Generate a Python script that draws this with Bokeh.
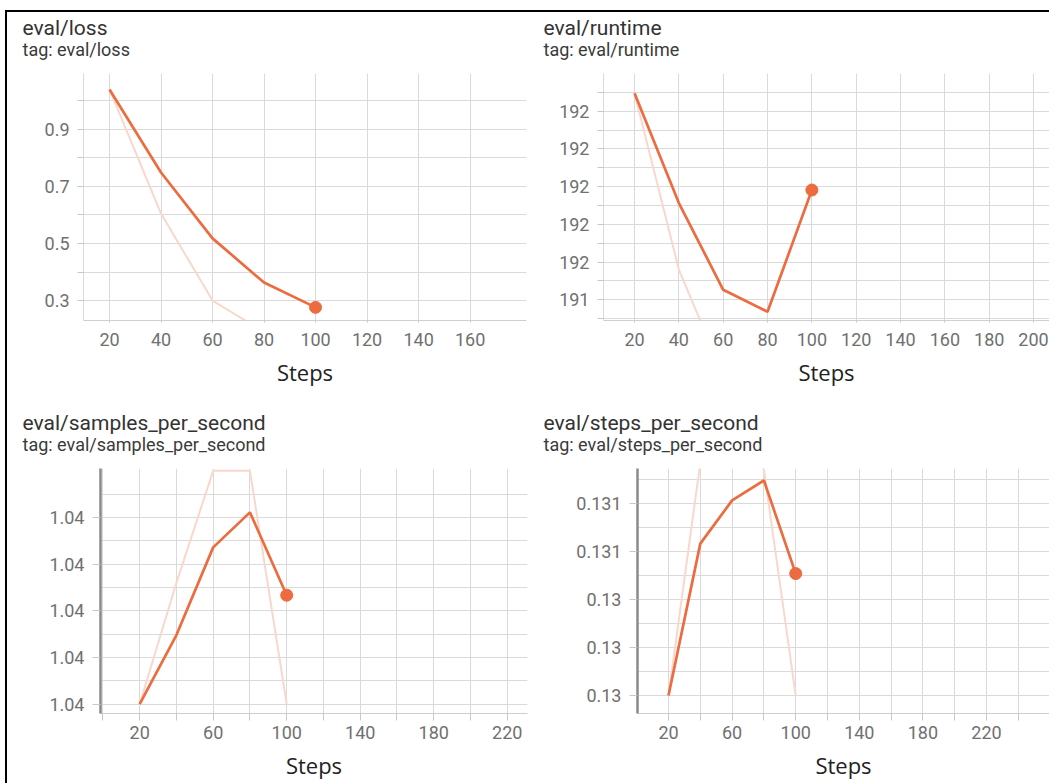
from bokeh.plotting import figure
from bokeh.models import Range1d, FixedTicker, CustomJSTickFormatter, Title, Div, Spacer
from bokeh.layouts import column, row
from bokeh.embed import file_html
from bokeh.resources import INLINE

# ---------------- data ----------------
steps = [20, 40, 60, 80, 100]

loss_smoothed = [1.040, 0.749, 0.518, 0.363, 0.276]
loss_raw = [1.040, 0.605, 0.300, 0.190, 0.140]

runtime_smoothed = [192.495, 191.913, 191.453, 191.336, 191.982]
runtime_raw = [192.495, 191.560, 191.000, 190.800, 191.100]

samples_smoothed = [1.04000, 1.040296, 1.040672, 1.040822, 1.040467]
samples_raw = [1.04000, 1.040520, 1.041000, 1.041000, 1.040000]

sps_smoothed = [0.13000, 0.130633, 0.130813, 0.130896, 0.130508]
sps_raw = [0.13000, 0.130970, 0.131200, 0.130940, 0.130000]

loss_yticks = [0.3, 0.5, 0.7, 0.9]
loss_ylabels = ["0.3", "0.5", "0.7", "0.9"]
loss_yminor = [0.4, 0.6, 0.8, 1.0]

runtime_yticks = [191.4, 191.6, 191.8, 192.0, 192.2, 192.4]
runtime_ylabels = ["191", "192", "192", "192", "192", "192"]
runtime_yminor = [191.3, 191.5, 191.7, 191.9, 192.1, 192.3, 192.5]

samples_yticks = [1.0400, 1.0402, 1.0404, 1.0406, 1.0408]
samples_ylabels = ["1.04", "1.04", "1.04", "1.04", "1.04"]
samples_yminor = [1.0401, 1.0403, 1.0405, 1.0407, 1.0409]

sps_yticks = [0.1300, 0.1302, 0.1304, 0.1306, 0.1308]
sps_ylabels = ["0.13", "0.13", "0.13", "0.131", "0.131"]
sps_yminor = [0.1301, 0.1303, 0.1305, 0.1307, 0.1309]

top_xticks = [20, 40, 60, 80, 100, 120, 140, 160, 180, 200]
bottom_xticks = [20, 60, 100, 140, 180, 220]
bottom_xminor = [0, 40, 80, 120, 160, 200, 240]

# ---------------- style ----------------
MAIN = "#ec6b3f"
RAW = "#f8d8cc"
GRID = "#dadada"
TICK_COLOR = "#707070"
TITLE_COLOR = "#333333"


def panel(title, tag, raw, smooth, xr, yr, xticks, xminor, yticks, ylabels, yminor,
          width, height, left, right, top, bottom, dark_axis):
    p = figure(width=width, height=height, output_backend="svg", toolbar_location=None,
               x_range=Range1d(*xr), y_range=Range1d(*yr), title=None,
               min_border_left=left, min_border_right=right,
               min_border_top=top, min_border_bottom=bottom)
    p.outline_line_color = None
    p.background_fill_color = "white"
    p.border_fill_color = "white"

    xt = FixedTicker(ticks=xticks, minor_ticks=xminor)
    yt = FixedTicker(ticks=yticks, minor_ticks=yminor)
    p.xaxis.ticker = xt
    p.yaxis.ticker = yt
    p.xgrid.ticker = xt
    p.ygrid.ticker = yt
    for g in (p.xgrid, p.ygrid):
        g.grid_line_color = GRID
        g.minor_grid_line_color = GRID
        g.grid_line_width = 1
        g.minor_grid_line_width = 1

    p.yaxis.formatter = CustomJSTickFormatter(
        args=dict(vals=yticks, labs=ylabels),
        code="""
        for (let i = 0; i < vals.length; i++) {
            if (Math.abs(vals[i] - tick) < 1e-9) { return labs[i]; }
        }
        return "";
        """)

    for ax in (p.xaxis, p.yaxis):
        ax.major_label_text_font = "Roboto"
        ax.major_label_text_font_size = "18px"
        ax.major_label_text_color = TICK_COLOR
        ax.major_tick_in = 0
        ax.minor_tick_in = 0
        ax.major_tick_line_color = "#c8c8c8"
        ax.minor_tick_line_color = "#c8c8c8"

    p.xaxis.axis_label = "Steps"
    p.xaxis.axis_label_text_font = "Open Sans"
    p.xaxis.axis_label_text_font_style = "normal"
    p.xaxis.axis_label_text_font_size = "22px"
    p.xaxis.axis_label_text_color = "#222222"
    p.xaxis.axis_label_standoff = 8
    p.xaxis.axis_line_color = "#cfcfcf"

    if dark_axis:
        p.xaxis.major_tick_out = 7
        p.xaxis.minor_tick_out = 7
        p.xaxis.major_label_standoff = 5
        p.yaxis.axis_line_color = "#8a8a8a"
        p.yaxis.axis_line_width = 2.5
        p.yaxis.major_tick_out = 8
        p.yaxis.minor_tick_out = 0
        p.yaxis.major_label_standoff = 8
    else:
        p.xaxis.major_tick_out = 2
        p.xaxis.minor_tick_out = 0
        p.xaxis.major_label_standoff = 10
        p.yaxis.axis_line_color = GRID
        p.yaxis.major_tick_out = 6
        p.yaxis.minor_tick_out = 6
        p.yaxis.major_label_standoff = 8

    p.line(steps, raw, color=RAW, line_width=2)
    p.line(steps, smooth, color=MAIN, line_width=2.7)
    p.scatter(steps[-1:], smooth[-1:], size=12, color=MAIN)

    # tag line (closest to the frame) then the main title above it
    p.add_layout(Title(text=tag, text_font="Roboto", text_font_size="18px",
                       text_font_style="normal", text_color="#3a3a3a",
                       align="left", vertical_align="top",
                       offset=-(left - 15), standoff=23), "above")
    p.add_layout(Title(text=title, text_font="Roboto", text_font_size="21px",
                       text_font_style="normal", text_color=TITLE_COLOR,
                       align="left", vertical_align="bottom",
                       offset=-(left - 15), standoff=-24.6), "above")
    return p


p1 = panel("eval/loss", "tag: eval/loss", loss_raw, loss_smoothed,
           (9.9, 181.9), (0.23, 1.096), top_xticks[:8], [], loss_yticks, loss_ylabels, loss_yminor,
           521, 378, 76, 2, 61, 70, False)
p2 = panel("eval/runtime", "tag: eval/runtime", runtime_raw, runtime_smoothed,
           (6.0, 207.2), (191.29, 192.6), top_xticks, [], runtime_yticks, runtime_ylabels, runtime_yminor,
           521, 378, 75, 0, 61, 70, False)
p3 = panel("eval/samples_per_second", "tag: eval/samples_per_second", samples_raw, samples_smoothed,
           (-1.3, 231.0), (1.03996, 1.04101), bottom_xticks, bottom_xminor,
           samples_yticks, samples_ylabels, samples_yminor,
           521, 393, 93, 1, 78, 70, True)
p4 = panel("eval/steps_per_second", "tag: eval/steps_per_second", sps_raw, sps_smoothed,
           (0.5, 259.6), (0.129925, 0.130946), bottom_xticks, bottom_xminor,
           sps_yticks, sps_ylabels, sps_yminor,
           521, 393, 109, 0, 78, 70, True)

top_line = Div(width=1044, height=2, margin=0, styles={"background-color": "black"})
left_line = Div(width=2, height=771, margin=0, styles={"background-color": "black"})

layout = column(
    Spacer(width=1049, height=10, margin=0),
    row(Spacer(width=5, height=2, margin=0), top_line),
    row(Spacer(width=5, height=771, margin=0), left_line,
        column(row(p1, p2), row(p3, p4))),
)

open("out.html", "w").write(file_html(layout, INLINE))
